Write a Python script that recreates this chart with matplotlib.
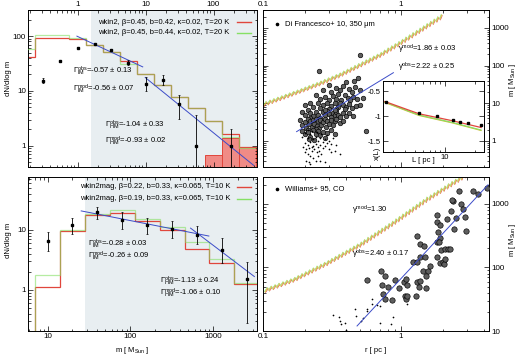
import numpy as np
import matplotlib
matplotlib.use('Agg')
import matplotlib.pyplot as plt
import matplotlib.patheffects as pe
from matplotlib.ticker import FuncFormatter, NullFormatter, FixedLocator

plt.rcParams['font.family'] = ['Liberation Sans', 'DejaVu Sans']
plt.rcParams['mathtext.fontset'] = 'custom'
plt.rcParams['mathtext.rm'] = 'Liberation Sans'
plt.rcParams['mathtext.it'] = 'Liberation Sans:italic'
plt.rcParams['mathtext.bf'] = 'Liberation Sans:bold'
plt.rcParams['axes.unicode_minus'] = False

# ---------------- data: top-left (wkin2 mass function) ----------------
tl_edges = [0.133, 0.237, 0.422, 0.750, 1.33, 2.37, 4.22, 7.50, 13.3, 23.7, 42.2, 75.0, 133.0, 237.0, 422.0]
tl_red = [42, 91, 93, 89, 68.5, 52, 35, 20.8, 13.1, 7.8, 4.9, 2.8, 1.66, 0.97]
tl_green = [58, 107, 107, 94, 68.5, 51, 30.5, 20.8, 13.1, 7.8, 4.9, 2.8, 1.45, 0.92]
tl_fill_edges = [75.0, 133.0, 237.0, 422.0]
tl_fill = [0.67, 1.36, 0.94]
tl_mass = [0.316, 0.562, 1.0, 1.78, 3.16, 5.62, 10.0, 17.8, 31.6, 56.2, 178.0]
tl_dn = [15.5, 35, 62, 70.5, 55.6, 32.6, 13.3, 15.7, 5.9, 1.0, 1.0]
tl_lo = [14.0, 33.5, 60, 68, 53.5, 29.2, 10.0, 12.8, 3.1, 0.01, 0.01]
tl_hi = [17.2, 36.5, 64, 73, 57.8, 36.5, 17.7, 19.4, 8.4, 3.6, 2.0]
tl_fit_im_m = [0.98, 9.1]
tl_fit_im_n = [100, 27.5]
tl_fit_hm_m = [9.9, 389]
tl_fit_hm_n = [17.6, 0.44]
tl_shade = 1.6

# ---------------- data: bottom-left (wkin2mag) ----------------
bl_edges = [7.07, 14.1, 28.3, 56.6, 113, 226, 453, 905, 1810, 3620]
bl_red = [1.12, 9.6, 18.0, 19.0, 13.8, 10.0, 4.8, 2.78, 1.27]
bl_green = [1.80, 9.8, 18.3, 21.5, 15.0, 11.0, 6.2, 3.3, 1.30]
bl_mass = [10, 20, 40, 80, 160, 320, 640, 1280, 2560]
bl_dn = [6.6, 12.1, 19.5, 14.4, 12.2, 10.4, 8.3, 4.7, 1.5]
bl_lo = [4.5, 8.7, 15.0, 10.3, 8.6, 7.4, 5.9, 2.8, 0.28]
bl_hi = [9.3, 15.7, 23.8, 19.5, 15.8, 13.9, 11.4, 7.2, 2.9]
bl_fit_im_m = [25.5, 890]
bl_fit_im_n = [20.7, 7.9]
bl_fit_hm_m = [535, 3160]
bl_fit_hm_n = [10.7, 1.67]
bl_shade = 28.3

# ---------------- data: top-right (Di Francesco+ 10) ----------------
tr_mod_r = [0.098, 0.133, 0.185, 0.259, 0.361, 0.505, 0.705, 0.98, 1.37, 1.97]
tr_mod_m = [8.2, 12.3, 19.2, 30.7, 51, 94, 173, 354, 769, 1808]
tr_fit_r = [0.175, 0.88]
tr_fit_m = [1.77, 65]
tr_big = [(0.256, 74), (0.50, 190), (0.49, 46), (0.455, 40), (0.40, 36),
          (0.30, 30), (0.34, 26), (0.38, 28), (0.42, 24), (0.46, 27), (0.36, 22), (0.27, 22),
          (0.44, 20), (0.50, 22), (0.31, 20),
          (0.24, 17), (0.28, 15), (0.32, 16), (0.35, 18), (0.39, 17), (0.41, 14), (0.45, 15),
          (0.48, 13), (0.26, 13), (0.30, 12.5), (0.34, 13), (0.37, 12), (0.43, 12), (0.53, 14),
          (0.20, 9), (0.22, 10), (0.23, 8), (0.25, 10.5), (0.27, 9), (0.29, 10), (0.31, 8.5),
          (0.33, 10), (0.35, 8), (0.36, 10.5), (0.38, 9), (0.40, 8), (0.42, 9.5), (0.44, 7.5),
          (0.47, 8.5), (0.50, 9), (0.26, 7.5), (0.30, 7.2), (0.34, 7), (0.39, 7),
          (0.19, 6), (0.20, 5), (0.21, 6.5), (0.22, 5.5), (0.23, 4.5), (0.24, 6), (0.25, 5),
          (0.26, 4.2), (0.27, 5.8), (0.28, 4.8), (0.29, 6.2), (0.30, 5.2), (0.31, 4.4), (0.32, 5.6),
          (0.33, 4.8), (0.34, 6), (0.35, 5), (0.36, 4.3), (0.38, 5.5), (0.40, 4.6), (0.42, 5.5),
          (0.45, 4.5), (0.22, 4.2), (0.28, 6.5), (0.33, 6.6),
          (0.185, 3.5), (0.19, 2.6), (0.20, 3.2), (0.205, 2.2), (0.21, 3.8), (0.215, 2.8),
          (0.22, 3.3), (0.225, 2.4), (0.23, 3.6), (0.235, 2.9), (0.24, 3.9), (0.245, 2.5),
          (0.25, 3.3), (0.255, 2.2), (0.26, 3.6), (0.265, 2.7), (0.27, 3.1), (0.28, 3.8),
          (0.285, 2.4), (0.29, 3.3), (0.30, 2.8), (0.31, 3.6), (0.32, 2.6), (0.33, 3.3),
          (0.34, 3.9), (0.36, 3.0), (0.38, 3.4), (0.21, 2.0), (0.24, 2.05),
          (0.19, 1.8), (0.20, 1.5), (0.21, 1.7), (0.22, 1.3), (0.23, 1.9), (0.24, 1.5),
          (0.25, 1.8), (0.26, 1.4), (0.27, 1.7), (0.28, 1.2), (0.29, 1.6), (0.31, 1.9),
          (0.33, 1.5), (0.557, 1.8), (0.215, 1.1), (0.235, 1.05)]
tr_dot = [(0.20, 1.6), (0.21, 1.2), (0.22, 1.5), (0.23, 1.1), (0.24, 1.3), (0.25, 1.0), (0.26, 1.2),
          (0.27, 0.95), (0.28, 1.1), (0.29, 0.9), (0.30, 1.0), (0.31, 0.85), (0.20, 0.9), (0.21, 0.8),
          (0.22, 0.95), (0.23, 0.75), (0.24, 0.85), (0.25, 0.7), (0.26, 0.8), (0.27, 0.65), (0.28, 0.75),
          (0.205, 0.6), (0.215, 0.65), (0.225, 0.55), (0.235, 0.6), (0.245, 0.5), (0.255, 0.55),
          (0.265, 0.45), (0.21, 0.45), (0.22, 0.4), (0.23, 0.35), (0.205, 0.3), (0.215, 0.28),
          (0.24, 0.3), (0.26, 0.3), (0.28, 0.28), (0.33, 0.55), (0.36, 0.45), (0.31, 0.5),
          (0.19, 1.3), (0.195, 0.7), (0.20, 0.5), (0.22, 0.25), (0.30, 0.6), (0.34, 0.8),
          (0.32, 1.2), (0.29, 1.4), (0.265, 1.5), (0.245, 1.7), (0.225, 1.8), (0.21, 2.0),
          (0.225, 0.7), (0.25, 0.4)]
# inset x(L)
in_L = [2.6, 5.5, 8.3, 12, 14, 17, 23]
in_x = [-0.72, -0.93, -1.0, -1.07, -1.11, -1.13, -1.18]
in_mod_L = [2.5, 5.5, 8.3, 11.9, 22.9]
in_red = [-0.70, -0.946, -1.02, -1.086, -1.22]
in_green = [-0.71, -0.97, -1.05, -1.12, -1.27]
in_yellow = [-0.72, -0.98, -1.06, -1.13, -1.28]

# ---------------- data: bottom-right (Williams+ 95) ----------------
br_mod_r = [0.1, 0.169, 0.294, 0.51, 0.885, 1.54, 2.99]
br_mod_m = [40, 61, 111, 216, 473, 1100, 2720]
br_fit_r = [0.48, 4.27]
br_fit_m = [12, 2000]
br_big = [(0.57, 63), (0.716, 89), (0.765, 74), (0.73, 52), (0.81, 50), (0.765, 32), (0.736, 38),
          (0.856, 31), (0.905, 64), (0.97, 48), (1.05, 58), (1.09, 65), (1.11, 52), (1.07, 35),
          (1.09, 32), (1.11, 35), (1.29, 35), (1.31, 58), (1.34, 50), (1.37, 61), (1.52, 48),
          (1.23, 124), (1.31, 124), (1.37, 145), (1.49, 145), (1.31, 309), (1.37, 235), (1.47, 220),
          (1.45, 89), (1.58, 89), (1.52, 74), (1.62, 107), (1.83, 670), (1.83, 525), (1.9, 466),
          (2.14, 580), (1.84, 356), (1.92, 287), (1.81, 247), (1.87, 247), (1.94, 189), (2.08, 195),
          (2.2, 195), (2.26, 195), (1.83, 145), (1.92, 117), (2.0, 120), (2.04, 112), (2.08, 135),
          (2.29, 785), (2.37, 1130), (2.7, 1000), (2.5, 610), (2.83, 830), (2.91, 616), (2.96, 380),
          (2.4, 400), (2.33, 1170), (3.33, 1580), (3.6, 1450), (4.2, 1780), (2.64, 1620)]
br_dot = [(0.323, 17.7), (0.357, 16.8), (0.36, 14.4), (0.37, 12.7), (0.393, 13.5), (0.40, 10.5),
          (0.464, 22), (0.472, 17.1), (0.533, 16.2), (0.565, 22.5), (0.57, 20.7), (0.613, 31.6),
          (0.62, 26.3), (0.666, 25.6), (0.704, 13.5), (0.87, 16.8), (0.704, 24.5), (1.1, 27),
          (0.51, 14.4), (0.84, 12.7)]

# ---------------- layout helpers ----------------
W, H = 520, 355
fig = plt.figure(figsize=(W / 100, H / 100), dpi=100)


def box(x0, y0, x1, y1):
    return [x0 / W, 1 - y1 / H, (x1 - x0) / W, (y1 - y0) / H]


def ftext(x, y, s, size=5.5, **kw):
    kw.setdefault('va', 'center')
    fig.text(x / W, 1 - y / H, s, fontsize=size, **kw)


def fline(ax, x0, x1, y, color):
    ax.plot([x0 / W, x1 / W], [1 - y / H] * 2, transform=fig.transFigure, color=color, lw=1.0,
            clip_on=False)


def fdot(ax, x, y):
    ax.plot([x / W], [1 - y / H], transform=fig.transFigure, marker='o', ms=1.6, color='k',
            clip_on=False)


TCK = 5.8
RED = '#e0463c'
GRN = '#86e064'
BLU = '#3c4cc8'
SHADE = '#e8eef1'
YEL = '#cdbd35'
CIRC_FACE = '#5e5e5e'


def style(ax, top=False, bottom=False, left=False, right=False):
    ax.tick_params(which='both', direction='in', top=True, bottom=True, left=True, right=True,
                   labeltop=top, labelbottom=bottom, labelleft=left, labelright=right,
                   labelsize=TCK, pad=1.5, width=0.5)
    ax.tick_params(which='major', length=3.5)
    ax.tick_params(which='minor', length=1.8)
    for sp in ax.spines.values():
        sp.set_linewidth(0.7)
    plain = FuncFormatter(lambda v, p: f'{v:g}')
    for axis in (ax.xaxis, ax.yaxis):
        if axis.get_scale() == 'log':
            axis.set_major_formatter(plain)
            axis.set_minor_formatter(NullFormatter())


def sawtooth(ax, r, m):
    for col, off, lw in [(RED, (0.4, -0.4), 0.45), (GRN, (-0.4, 0.4), 0.45), (YEL, (0, 0), 0.6)]:
        ax.plot(r, m, color=col, lw=lw, zorder=2,
                path_effects=[pe.TickedStroke(offset=off, spacing=3.0, angle=35, length=1.15)])


def mass_panel(ax, edges, red, green, mass, dn, lo, hi, fits, shade, baseline):
    ax.axvspan(shade, 1e5, color=SHADE, lw=0, zorder=0)
    ax.stairs(red, edges, baseline=baseline, color=RED, lw=0.9, zorder=2)
    ax.stairs(green, edges, baseline=baseline, color=GRN, lw=0.9, alpha=0.6, zorder=3)
    for fm, fn in fits:
        ax.plot(fm, fn, color=BLU, lw=0.7, zorder=4)
    dn = np.array(dn)
    ax.errorbar(mass, dn, yerr=[dn - np.array(lo), np.array(hi) - dn], fmt='s', ms=1.6,
                color='k', ecolor='k', elinewidth=0.6, capsize=1.0, capthick=0.5, zorder=5)


# ---------------- top-left ----------------
ax1 = fig.add_axes(box(28, 10, 257, 167))
ax1.set_xscale('log')
ax1.set_yscale('log')
ax1.bar(tl_fill_edges[:-1], tl_fill, width=np.diff(tl_fill_edges), align='edge', bottom=1e-3,
        color='#f08b86', edgecolor=RED, lw=0.7, zorder=1)
mass_panel(ax1, tl_edges, tl_red, tl_green, tl_mass, tl_dn, tl_lo, tl_hi,
           [(tl_fit_im_m, tl_fit_im_n), (tl_fit_hm_m, tl_fit_hm_n)], tl_shade, None)
ax1.set_xlim(0.187, 436)
ax1.set_ylim(0.41, 300)
style(ax1, top=True, left=True)
ftext(229, 22, 'wkin2, β=0.45, b=0.42, κ=0.02, T=20 K', ha='right')
ftext(229, 33, 'wkin2, β=0.45, b=0.44, κ=0.02, T=20 K', ha='right')
fline(ax1, 237, 251, 22, RED)
fline(ax1, 237, 251, 33, GRN)
ftext(73, 71, r'$\Gamma^{\mathrm{obs}}_{\mathrm{IM}}$=-0.57 ± 0.13')
ftext(73, 89, r'$\Gamma^{\mathrm{mod}}_{\mathrm{IM}}$=-0.56 ± 0.07')
ftext(105, 125, r'$\Gamma^{\mathrm{obs}}_{\mathrm{HM}}$=-1.04 ± 0.33')
ftext(105, 141, r'$\Gamma^{\mathrm{mod}}_{\mathrm{HM}}$=-0.93 ± 0.02')
ftext(8, 78, 'dN/dlog m', ha='center', rotation=90)

# ---------------- bottom-left ----------------
ax2 = fig.add_axes(box(28, 177, 257, 331))
ax2.set_xscale('log')
ax2.set_yscale('log')
mass_panel(ax2, bl_edges, bl_red, bl_green, bl_mass, bl_dn, bl_lo, bl_hi,
           [(bl_fit_im_m, bl_fit_im_n), (bl_fit_hm_m, bl_fit_hm_n)], bl_shade, 1e-3)
ax2.set_xlim(5.8, 3400)
ax2.set_ylim(0.207, 76)
style(ax2, bottom=True, left=True)
ftext(231, 187, 'wkin2mag, β=0.22, b=0.33, κ=0.065, T=10 K', ha='right')
ftext(231, 199, 'wkin2mag, β=0.19, b=0.33, κ=0.065, T=10 K', ha='right')
fline(ax2, 237, 251, 187, RED)
fline(ax2, 237, 251, 199, GRN)
ftext(88, 244, r'$\Gamma^{\mathrm{obs}}_{\mathrm{IM}}$=-0.28 ± 0.03')
ftext(88, 256, r'$\Gamma^{\mathrm{mod}}_{\mathrm{IM}}$=-0.26 ± 0.09')
ftext(160, 281, r'$\Gamma^{\mathrm{obs}}_{\mathrm{HM}}$=-1.13 ± 0.24')
ftext(160, 293, r'$\Gamma^{\mathrm{mod}}_{\mathrm{HM}}$=-1.06 ± 0.10')
ftext(8, 240, 'dN/dlog m', ha='center', rotation=90)
ftext(132, 350, r'm [ M$_{\mathrm{Sun}}$ ]', ha='center')

# ---------------- top-right ----------------
ax3 = fig.add_axes(box(263, 10, 489, 167))
ax3.set_xscale('log')
ax3.set_yscale('log')
sawtooth(ax3, tr_mod_r, tr_mod_m)
bx, by = zip(*tr_big)
ax3.scatter(bx, by, s=11, facecolor=CIRC_FACE, edgecolor='k', lw=0.45, zorder=3)
dx, dy = zip(*tr_dot)
ax3.scatter(dx, dy, s=1.5, color='k', lw=0, zorder=3)
ax3.plot(tr_fit_r, tr_fit_m, color=BLU, lw=0.7, zorder=4)
ax3.set_xlim(0.0999, 4.34)
ax3.set_ylim(0.204, 3000)
style(ax3, top=True, right=True)
fdot(ax3, 277, 24)
ftext(285, 24, 'Di Francesco+ 10, 350 μm')
ftext(398, 49, r'$\mathrm{γ}^{\mathrm{mod}}$=1.86 ± 0.03')
ftext(398, 67, r'$\mathrm{γ}^{\mathrm{obs}}$=2.22 ± 0.25')
ftext(513, 80, r'm [ M$_{\mathrm{Sun}}$ ]', ha='center', rotation=90)

# inset
axi = fig.add_axes(box(383, 81, 484, 152))
axi.set_xscale('log')
axi.plot(in_mod_L, in_yellow, color=YEL, lw=0.8)
axi.plot(in_mod_L, in_green, color=GRN, lw=0.8)
axi.plot(in_mod_L, in_red, color=RED, lw=0.9)
axi.plot(in_L, in_x, 's', ms=1.6, color='k')
axi.set_xlim(2.4, 24.5)
axi.set_ylim(-1.71, -0.29)
axi.yaxis.set_major_locator(FixedLocator([-1.5, -1.0, -0.5]))
axi.set_yticklabels(['-1.5', '-1', '-0.5'])
axi.xaxis.set_major_locator(FixedLocator([10]))
style(axi, bottom=True, left=True)
axi.tick_params(labelsize=5.5)
axi.set_xticklabels(['10'])
ftext(377, 153, 'x(L)', ha='center', rotation=90)
ftext(423, 160, 'L [ pc ]', ha='center')

# ---------------- bottom-right ----------------
ax4 = fig.add_axes(box(263, 177, 489, 331))
ax4.set_xscale('log')
ax4.set_yscale('log')
sawtooth(ax4, br_mod_r, br_mod_m)
bx, by = zip(*br_big)
ax4.scatter(bx, by, s=15, facecolor=CIRC_FACE, edgecolor='k', lw=0.45, zorder=3)
dx, dy = zip(*br_dot)
ax4.scatter(dx, dy, s=1.5, color='k', lw=0, zorder=3)
ax4.plot(br_fit_r, br_fit_m, color=BLU, lw=0.7, zorder=4)
ax4.set_xlim(0.0999, 4.34)
ax4.set_ylim(10, 2650)
style(ax4, bottom=True, right=True)
fdot(ax4, 277, 189)
ftext(285, 189, 'Williams+ 95, CO')
ftext(352, 210, r'$\mathrm{γ}^{\mathrm{mod}}$=1.30')
ftext(352, 254, r'$\mathrm{γ}^{\mathrm{obs}}$=2.40 ± 0.17')
ftext(513, 240, r'm [ M$_{\mathrm{Sun}}$ ]', ha='center', rotation=90)
ftext(376, 350, 'r [ pc ]', ha='center')

fig.savefig('out.png', dpi=100)
